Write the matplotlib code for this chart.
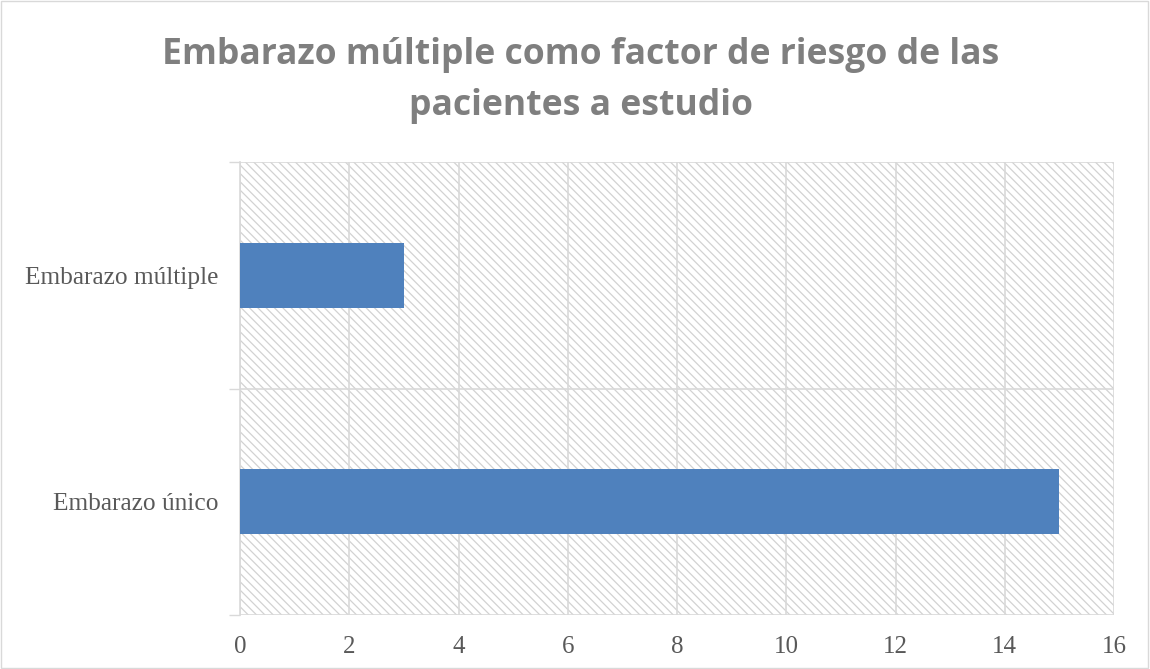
import matplotlib
matplotlib.use("Agg")
import matplotlib.pyplot as plt
from matplotlib.patches import Rectangle
import numpy as np

categories = ["Embarazo único", "Embarazo múltiple"]
values = [15, 3]
xticks = [0, 2, 4, 6, 8, 10, 12, 14, 16]
title = "Embarazo múltiple como factor de riesgo de las\npacientes a estudio"

plt.rcParams['hatch.linewidth'] = 0.9

fig = plt.figure(figsize=(11.5, 6.69), dpi=100)
fig.patch.set_facecolor("white")
fig.add_artist(Rectangle((0.0005, 0.0008), 0.998, 0.998, transform=fig.transFigure,
                         fill=False, edgecolor="#d9d9d9", linewidth=1.0))

ax = fig.add_axes([240/1150, 1-615/669, (1114-240)/1150, (615-162)/669])
ax.set_facecolor("white")
bg = Rectangle((0, 0), 1, 1, transform=ax.transAxes, facecolor="white",
               edgecolor="#d2d2d2", hatch="\\\\\\\\", linewidth=0, zorder=0)
ax.add_patch(bg)

y = np.arange(len(categories))
ax.barh(y, values, height=0.285, color="#4F81BD", zorder=3)

ax.set_xlim(0, 16)
ax.set_ylim(-0.5, len(categories) - 0.5)
ax.set_xticks(xticks)
ax.set_xticklabels([str(t) for t in xticks], fontsize=18, color="#595959", family="Liberation Serif")
ax.tick_params(axis='x', length=0, pad=15)

ax.set_yticks([-0.5, 0.5, 1.5])
ax.set_yticklabels(["", "", ""])
ax.set_yticks(y, minor=True)
ax.set_yticklabels(categories, minor=True, fontsize=18.3, color="#595959", family="Liberation Serif")
ax.tick_params(axis='y', which='major', length=8, color="#d9d9d9", width=1)
ax.tick_params(axis='y', which='minor', length=0, pad=15.5)

ax.grid(True, which='major', color="#d9d9d9", linewidth=1.2, zorder=1)
ax.set_axisbelow(True)
for s in ["top", "right", "bottom"]:
    ax.spines[s].set_visible(False)
ax.spines["left"].set_color("#d9d9d9")
ax.spines["left"].set_linewidth(1.2)

fig.text(0.505, 0.88, title, ha="center", va="center", fontsize=25.6, fontweight="bold",
         color="#7f7f7f", family="Open Sans", linespacing=1.55)

fig.savefig("out.png", dpi=100, facecolor="white")
